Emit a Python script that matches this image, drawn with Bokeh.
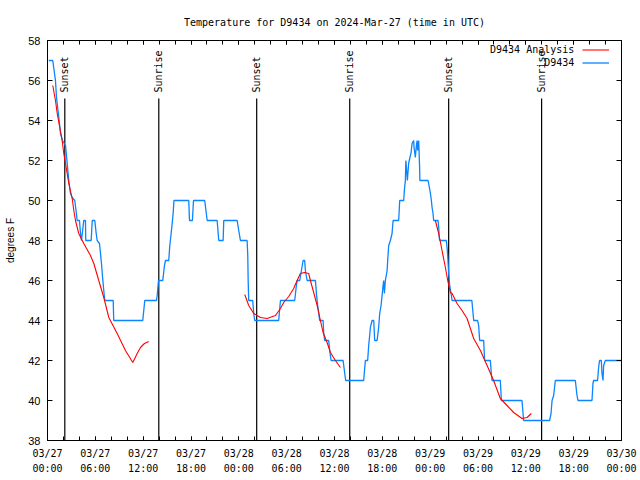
from bokeh.plotting import figure
from bokeh.models import LinearAxis, FixedTicker, Range1d, Label, Legend, LegendItem
from bokeh.core.properties import value
from bokeh.embed import file_html
from bokeh.resources import INLINE
import math

# ---------------- data (hours since 2024-03-27 00:00 UTC) ----------------
TICK_HOURS = [0, 6, 12, 18, 24, 30, 36, 42, 48, 54, 60, 66, 72]
DATE_LABELS = ["03/27", "03/27", "03/27", "03/27", "03/28", "03/28", "03/28",
               "03/28", "03/29", "03/29", "03/29", "03/29", "03/30"]
TIME_LABELS = ["00:00", "06:00", "12:00", "18:00", "00:00", "06:00", "12:00",
               "18:00", "00:00", "06:00", "12:00", "18:00", "00:00"]
Y_TICKS = [38, 40, 42, 44, 46, 48, 50, 52, 54, 56, 58]

SUN_HOURS = [2.17, 13.96, 26.24, 37.91, 50.32, 61.98]
SUN_LABELS = ["Sunset", "Sunrise", "Sunset", "Sunrise", "Sunset", "Sunrise"]

OBS_HOURS = [0.16, 0.66, 0.88, 1.00, 1.13, 1.42, 1.63, 1.88, 2.26, 2.47, 2.67, 2.88,
             3.10, 3.42, 3.64, 3.72, 4.01, 4.14, 4.26, 4.55, 4.76, 4.80, 5.48, 5.61,
             5.93, 6.11, 6.23, 6.52, 6.65, 6.77, 6.90, 7.06, 7.18, 8.24, 8.31, 11.95,
             12.20, 13.67, 13.76, 13.92, 14.46, 14.67, 14.80, 15.21, 15.34, 15.51, 15.76,
             15.86, 17.72, 17.81, 18.18, 18.31, 19.72, 20.03, 21.28, 21.48, 22.03, 22.11,
             23.79, 23.99, 24.20, 25.04, 25.12, 25.17, 25.24, 25.74, 25.87, 25.99, 29.00,
             29.22, 31.01, 31.19, 31.31, 31.64, 31.85, 32.06, 32.26, 32.35, 32.56, 33.61,
             33.73, 33.89, 34.02, 34.14, 34.57, 34.65, 34.77, 35.27, 35.40, 35.57, 37.08,
             37.24, 37.40, 39.66, 39.87, 40.16, 40.29, 40.41, 40.50, 40.71, 40.92, 41.04,
             41.34, 41.54, 41.67, 41.84, 41.97, 42.09, 42.17, 42.26, 42.38, 42.60, 42.67,
             42.80, 43.01, 43.22, 43.35, 44.05, 44.18, 44.68, 44.76, 44.89, 44.95, 45.02,
             45.14, 45.30, 45.43, 45.61, 45.73, 45.93, 45.98, 46.14, 46.27, 46.36, 46.43,
             46.56, 46.68, 46.71, 47.74, 47.90, 48.03, 48.15, 48.24, 48.36, 48.44, 48.99,
             49.07, 49.15, 49.22, 50.03, 50.12, 50.20, 50.32, 50.45, 50.62, 50.75, 53.23,
             53.38, 53.46, 53.96, 54.08, 54.21, 54.71, 54.83, 55.55, 55.67, 55.76, 56.80,
             56.93, 59.52, 59.65, 59.72, 62.98, 63.16, 63.29, 63.49, 63.70, 66.21, 66.42,
             66.54, 68.30, 68.42, 68.50, 69.00, 69.13, 69.25, 69.47, 69.55, 69.68, 69.76,
             69.97, 72.00]
OBS_TEMPS = [57.0, 57.0, 56.35, 56.0, 55.15, 54.15, 53.35, 53.0, 52.75, 51.85, 51.0, 50.35,
             50.15, 50.0, 49.3, 49.0, 49.0, 48.35, 48.0, 49.0, 49.0, 48.0, 48.0, 49.0,
             49.0, 48.35, 48.0, 47.85, 47.35, 46.85, 46.2, 45.5, 45.0, 45.0, 44.0, 44.0,
             45.0, 45.0, 45.25, 46.0, 46.0, 46.75, 47.0, 47.0, 47.75, 48.35, 49.35,
             50.0, 50.0, 49.0, 49.0, 50.0, 50.0, 49.0, 49.0, 48.0, 48.0, 49.0,
             49.0, 48.5, 48.0, 48.0, 47.25, 46.0, 45.0, 45.0, 44.35, 44.0, 44.0,
             45.0, 45.0, 45.65, 46.0, 46.0, 46.5, 47.0, 47.0, 46.5, 46.0, 46.0,
             45.35, 44.75, 44.35, 44.0, 44.0, 43.35, 43.0, 43.0, 42.5, 42.0, 42.0,
             41.5, 41.0, 41.0, 42.0, 42.0, 42.75, 43.25, 43.65, 44.0, 44.0, 43.0,
             43.0, 43.65, 44.35, 44.75, 45.25, 45.75, 46.0, 45.35, 46.0, 46.5, 47.0,
             47.75, 48.0, 48.35, 49.0, 49.0, 50.0, 50.0, 50.5, 51.0, 52.0, 51.65,
             51.0, 51.85, 52.1, 52.4, 52.85, 53.0, 52.65, 52.15, 52.75, 53.0, 52.5,
             53.0, 51.6, 51.0, 51.0, 50.65, 50.35, 50.0, 49.65, 49.35, 49.0, 49.0,
             48.65, 48.1, 48.0, 48.0, 47.65, 47.25, 46.35, 45.75, 45.35, 45.0, 45.0,
             44.35, 44.0, 44.0, 43.75, 43.0, 43.0, 42.0, 42.0, 41.35, 41.0, 41.0,
             40.0, 40.0, 39.35, 39.0, 39.0, 39.35, 40.0, 40.25, 41.0, 41.0, 40.25,
             40.0, 40.0, 40.85, 41.0, 41.0, 41.65, 42.0, 42.0, 41.35, 41.0, 41.75,
             42.0, 42.0]

ANA1_HOURS = [0.66, 1.00, 1.22, 1.54, 1.84, 2.04, 2.26, 2.67, 3.10, 3.30, 3.51, 3.92,
              4.55, 5.39, 5.81, 6.43, 7.06, 7.69, 8.74, 9.78, 10.70, 11.25, 11.66,
              12.16, 12.70]
ANA1_TEMPS = [55.75, 55.0, 54.35, 53.65, 53.0, 52.35, 51.85, 50.85, 50.1, 49.5, 49.0,
              48.35, 47.85, 47.25, 46.85, 46.0, 45.15, 44.15, 43.35, 42.5, 41.9, 42.35,
              42.65, 42.85, 42.95]
ANA2_HOURS = [24.74, 25.24, 25.87, 26.71, 27.55, 28.59, 29.22, 29.63, 30.26, 30.88,
              31.31, 31.72, 32.23, 32.76, 32.98, 33.39, 33.89, 34.23, 34.57, 35.07,
              35.49, 36.11, 36.74]
ANA2_TEMPS = [45.3, 44.75, 44.35, 44.15, 44.1, 44.25, 44.6, 44.9, 45.2, 45.6, 46.0,
              46.35, 46.4, 46.35, 46.0, 45.4, 44.65, 44.0, 43.4, 42.9, 42.4, 42.0, 41.65]
ANA3_HOURS = [48.65, 49.07, 49.49, 49.91, 50.20, 50.53, 50.75, 51.37, 52.00, 52.63,
              53.46, 54.30, 55.14, 55.96, 56.80, 57.64, 58.47, 59.52, 60.15, 60.69]
ANA3_TEMPS = [49.0, 48.35, 47.5, 46.65, 46.0, 45.4, 45.35, 44.85, 44.5, 44.1, 43.1,
              42.5, 41.75, 41.0, 40.1, 39.75, 39.4, 39.1, 39.15, 39.35]

# ---------------- styling ----------------
MONO = "DejaVu Sans Mono"
SANS = "Liberation Sans"
BLUE = "#0a84ff"
RED = "#ff0000"

p = figure(frame_width=574, frame_height=400, output_backend="svg", toolbar_location=None,
           x_range=Range1d(0, 72), y_range=Range1d(38, 58),
           x_axis_location=None, y_axis_location=None,
           min_border_left=47, min_border_right=19, min_border_top=40, min_border_bottom=40)
p.xgrid.visible = False
p.ygrid.visible = False
p.outline_line_color = "black"
p.outline_line_width = 1
p.background_fill_color = "white"
p.border_fill_color = "white"

p.title.text = "Temperature for D9434 on 2024-Mar-27 (time in UTC)"
p.title.align = "center"
p.title.text_font = MONO
p.title.text_font_size = "10px"
p.title.text_font_style = "normal"
p.title.text_color = "black"
p.title.standoff = 26

minor_hours = list(range(0, 73, 2))

def style_ticks(ax):
    ax.major_tick_in = 4
    ax.major_tick_out = 0
    ax.minor_tick_in = 4
    ax.minor_tick_out = 0
    ax.major_tick_line_color = "black"
    ax.minor_tick_line_color = "black"
    ax.axis_line_color = "black"

# bottom axis: dates
xa1 = LinearAxis(ticker=FixedTicker(ticks=TICK_HOURS, minor_ticks=minor_hours),
                 major_label_overrides={h: d for h, d in zip(TICK_HOURS, DATE_LABELS)})
style_ticks(xa1)
xa1.major_label_standoff = 7
xa1.major_label_text_font = MONO
xa1.major_label_text_font_size = "10px"
xa1.major_label_text_color = "black"
p.add_layout(xa1, "below")

# bottom axis: times
xa2 = LinearAxis(ticker=FixedTicker(ticks=TICK_HOURS, minor_ticks=[]),
                 major_label_overrides={h: t for h, t in zip(TICK_HOURS, TIME_LABELS)})
xa2.major_tick_in = 0
xa2.major_tick_out = 0
xa2.minor_tick_in = 0
xa2.minor_tick_out = 0
xa2.axis_line_color = None
xa2.major_tick_line_color = None
xa2.minor_tick_line_color = None
xa2.major_label_standoff = 1
xa2.major_label_text_font = MONO
xa2.major_label_text_font_size = "10px"
xa2.major_label_text_color = "black"
p.add_layout(xa2, "below")

# top mirrored ticks
xa_top = LinearAxis(ticker=FixedTicker(ticks=TICK_HOURS, minor_ticks=minor_hours),
                    major_label_overrides={h: "" for h in TICK_HOURS})
style_ticks(xa_top)
xa_top.major_label_standoff = 0
xa_top.major_label_text_font_size = "1px"
p.add_layout(xa_top, "above")

# left axis
ya = LinearAxis(ticker=FixedTicker(ticks=Y_TICKS, minor_ticks=[]),
                axis_label="degrees F")
style_ticks(ya)
ya.major_tick_in = 5
ya.major_label_standoff = 7
ya.major_label_text_font = SANS
ya.major_label_text_font_size = "11px"
ya.major_label_text_color = "black"
ya.axis_label_text_font = SANS
ya.axis_label_text_font_size = "10px"
ya.axis_label_text_font_style = "normal"
ya.axis_label_text_color = "black"
ya.axis_label_standoff = 9
p.add_layout(ya, "left")

# right mirrored ticks
ya_r = LinearAxis(ticker=FixedTicker(ticks=Y_TICKS, minor_ticks=[]),
                  major_label_overrides={t: "" for t in Y_TICKS})
style_ticks(ya_r)
ya_r.major_tick_in = 5
ya_r.major_label_standoff = 0
ya_r.major_label_text_font_size = "1px"
p.add_layout(ya_r, "right")

# sunset / sunrise markers
p.segment(x0=SUN_HOURS, y0=[38] * len(SUN_HOURS), x1=SUN_HOURS, y1=[55.1] * len(SUN_HOURS),
          line_color="black", line_width=1.2)
p.text(x=SUN_HOURS, y=[55.4] * len(SUN_HOURS), text=SUN_LABELS, angle=math.pi / 2,
       text_align="left", text_baseline="middle", text_font=value(MONO),
       text_font_size="10px", text_color="black")

# data
r_obs = p.line(OBS_HOURS, OBS_TEMPS, line_color=BLUE, line_width=1.3)
r_ana = p.multi_line(xs=[ANA1_HOURS, ANA2_HOURS, ANA3_HOURS],
                     ys=[ANA1_TEMPS, ANA2_TEMPS, ANA3_TEMPS],
                     line_color=RED, line_width=1.1)

# legend (gnuplot style: text left of sample)
leg = Legend(items=[LegendItem(label=" ", renderers=[r_ana]),
                    LegendItem(label=" ", renderers=[r_obs])],
             location=(535, 371), orientation="vertical",
             padding=0, margin=0, spacing=0, glyph_width=27, glyph_height=13,
             label_height=13, label_width=0, label_standoff=0,
             label_text_font_size="1px",
             background_fill_alpha=0, border_line_alpha=0)
p.add_layout(leg, "center")

p.add_layout(Label(x=66.08, y=57.55, text="D9434 Analysis", text_align="right",
                   text_baseline="middle", text_font=MONO, text_font_size="10px",
                   text_color="black"))
p.add_layout(Label(x=66.08, y=56.9, text="D9434", text_align="right",
                   text_baseline="middle", text_font=MONO, text_font_size="10px",
                   text_color="black"))

open("out.html", "w").write(file_html(p, INLINE))
